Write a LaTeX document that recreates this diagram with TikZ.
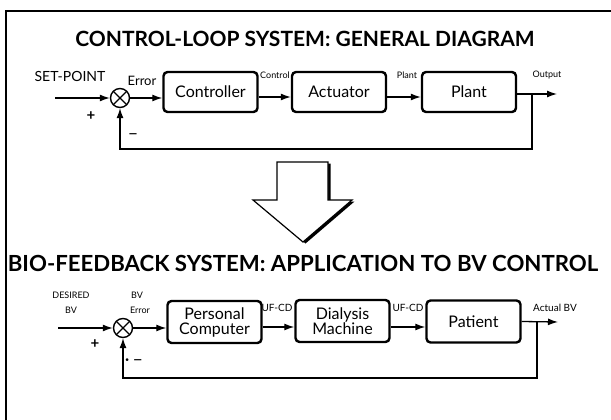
\documentclass[tikz,border=0pt]{standalone}
\usepackage{fontspec}
\setmainfont{Lato}
\usetikzlibrary{arrows.meta,calc}
\begin{document}
\begin{tikzpicture}[x=1pt,y=-1pt,
 blk/.style={draw,line width=2.4pt,rounded corners=4pt,minimum width=94pt,minimum height=40pt,font=\fontsize{16}{15}\selectfont,align=center,inner sep=0pt},
 sumj/.style={draw,circle,line width=1.4pt,minimum size=19pt,inner sep=0pt,path picture={\draw[line width=1.4pt] (path picture bounding box.north west)--(path picture bounding box.south east) (path picture bounding box.north east)--(path picture bounding box.south west);}},
 sig/.style={line width=1.3pt,-{Latex[length=10pt,width=7pt]}},
 fb/.style={line width=1.1pt,-{Latex[length=10pt,width=7pt]}},
 ttl/.style={font=\fontsize{21}{21}\selectfont\bfseries,inner sep=0pt},
 lbl/.style={font=\fontsize{9}{9}\selectfont,inner sep=0pt},
 mlbl/.style={font=\fontsize{13}{13}\selectfont,inner sep=0pt},
 sgn/.style={font=\fontsize{15}{15}\selectfont\bfseries,inner sep=0pt},
]
\useasboundingbox (0,0) rectangle (611,420);
\fill[white] (0,0) rectangle (611,420);
% frame
\draw[line width=1.4pt] (6,421) -- (6,11) -- (612,11);

% ---------- top diagram ----------
\node[ttl] (t1) at (305,39) {CONTROL-LOOP SYSTEM: GENERAL DIAGRAM};
\node[font=\fontsize{14}{14}\selectfont,inner sep=0pt] (sp) at (70,76) {SET-POINT};
\coordinate (in1) at (55,98);
\node[sumj] (s1) at (120,98) {};
\node[mlbl] (err1) at (142,81) {Error};
\node[blk] (ctrl) at (210.5,92) {Controller};
\node[blk] (act) at (339,92) {Actuator};
\node[blk] (plant) at (469,92) {Plant};
\node[lbl] (lc) at (275,75) {Control};
\node[lbl] (lp) at (407,75) {Plant};
\node[lbl] (lo) at (547,75) {Output};
\node[sgn] (p1) at (91,116) {+};
\node[sgn,font=\fontsize{18}{18}\selectfont] (m1) at (133,137) {–};
\coordinate (o1) at (557,94);
\coordinate (b1) at (532,94);
\coordinate (f1) at (532,149);

\draw[sig] (in1) -- (s1);
\draw[sig] (s1.east) -- (s1.east -| ctrl.west);
\draw[sig] ([yshift=-5pt]ctrl.east) -- ([yshift=-5pt]act.west);
\draw[sig] ([yshift=-5pt]act.east) -- ([yshift=-5pt]plant.west);
\draw[sig] ([yshift=-2pt]plant.east) -- (o1);
\draw[fb] (b1) -- (f1) -| (s1.south);

% ---------- big arrow ----------
\begin{scope}[shift={(2.5,1.5)}]
\fill[black] (277,162) -- (277,200) -- (253,200) -- (303,242) -- (352,200) -- (328,200) -- (328,162) -- cycle;
\end{scope}
\draw[line width=1.2pt,fill=white,line join=miter] (277,162) -- (277,200) -- (253,200) -- (303,242) -- (352,200) -- (328,200) -- (328,162) -- cycle;

% ---------- bottom diagram ----------
\node[ttl,font=\fontsize{22.2}{22}\selectfont\bfseries] (t2) at (303,263) {BIO-FEEDBACK SYSTEM: APPLICATION TO BV CONTROL};
\node[lbl] (ds) at (71,295) {DESIRED};
\node[lbl] (dbv) at (71,310) {BV};
\node[lbl] (ebv) at (137,295) {BV};
\node[lbl] (err2) at (140,310) {Error};
\coordinate (in2) at (58,328);
\node[sumj] (s2) at (123,328) {};
\node[blk,minimum height=42pt] (pc) at (214.5,322) {Personal\\Computer};
\node[blk,minimum height=42pt] (dm) at (342.5,321) {Dialysis\\Machine};
\node[blk,minimum height=42pt] (pat) at (473.5,321.5) {Patient};
\node[lbl,font=\fontsize{10}{10}\selectfont] (u1) at (277,308) {UF-CD};
\node[lbl,font=\fontsize{10}{10}\selectfont] (u2) at (408,308) {UF-CD};
\node[lbl,font=\fontsize{10}{10}\selectfont] (abv) at (555,308) {Actual BV};
\node[sgn] (p2) at (95,344) {+};
\node[sgn,font=\fontsize{18}{18}\selectfont] (m2) at (134,362) {·\,–};
\coordinate (o2) at (558,322);
\coordinate (b2) at (537,322);
\coordinate (f2) at (537,378);

\draw[sig] (in2) -- (s2);
\draw[sig] (s2.east) -- (s2.east -| pc.west);
\draw[sig] ([yshift=-5pt]pc.east) -- ([yshift=-5pt]pc.east -| dm.west);
\draw[sig] ([yshift=-6pt]dm.east) -- ([yshift=-6pt]dm.east -| pat.west);
\draw[sig] (pat.east) -- (o2);
\draw[fb] (b2) -- (f2) -| (s2.south);
\end{tikzpicture}
\end{document}
